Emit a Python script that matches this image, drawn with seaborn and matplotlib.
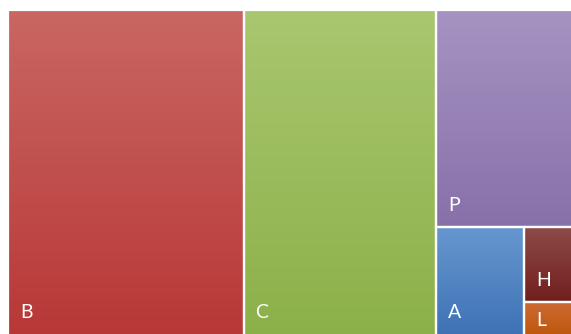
import numpy as np
import seaborn as sns
import matplotlib.pyplot as plt
from matplotlib.colors import to_rgb
from matplotlib.patches import Rectangle

# Category shares (percent of total area)
labels = ["B", "C", "P", "A", "H", "L"]
values = [41.7, 34.1, 16.1, 5.2, 2.0, 0.9]
top_colors = ["#C96763", "#A9C76F", "#A693C2", "#6797CF", "#8D4B49", "#CC6A34"]
bottom_colors = ["#B83836", "#8CB049", "#8870A9", "#3E72B5", "#711F1D", "#BE570C"]


def worst(row, side):
    s = sum(row)
    return max(max(side * side * r / (s * s), s * s / (side * side * r)) for r in row)


def squarify(sizes, x, y, w, h):
    # classic squarified treemap, sizes already scaled to w*h
    rects = []
    sizes = list(sizes)
    while sizes:
        side = min(w, h)
        row = [sizes.pop(0)]
        while sizes and worst(row + [sizes[0]], side) <= worst(row, side):
            row.append(sizes.pop(0))
        s = sum(row)
        if w >= h:
            cw = s / h
            cy = y
            for r in row:
                rects.append((x, cy, cw, r / cw))
                cy += r / cw
            x += cw
            w -= cw
        else:
            rh = s / w
            cx = x
            for r in row:
                rects.append((cx, y, r / rh, rh))
                cx += r / rh
            y += rh
            h -= rh
    return rects


sns.set_theme(style="white")
plt.rcParams['font.family'] = ['Lato', 'DejaVu Sans']

W, H = 571, 334
# the chart is cut by the right and bottom edges of the picture
x0, y0, tw, th = 8, 10, W - 8 + 2, H - 10 + 2
total = sum(values)
scaled = [v / total * tw * th for v in values]
rects = squarify(scaled, x0, y0, tw, th)

fig = plt.figure(figsize=(W / 100, H / 100), dpi=100)
ax = fig.add_axes([0, 0, 1, 1])
ax.set_xlim(0, W)
ax.set_ylim(H, 0)
ax.axis("off")

for lab, (rx, ry, rw, rh), c1, c2 in zip(labels, rects, top_colors, bottom_colors):
    t = np.linspace(0, 1, 128)[:, None]
    grad = (1 - t) * np.array(to_rgb(c1)) + t * np.array(to_rgb(c2))
    ax.imshow(grad[:, None, :].repeat(2, axis=1), extent=(rx, rx + rw, ry + rh, ry),
              aspect="auto", interpolation="bilinear", zorder=1)
    ax.add_patch(Rectangle((rx, ry), rw, rh, fill=False, edgecolor="white",
                           linewidth=1.6, zorder=2))
    bottom = min(ry + rh, H)
    base = max(bottom - 16, ry + 24)
    ax.text(rx + 12, base, lab, color="white", fontsize=14, ha="left",
            va="baseline", zorder=3)

ax.set_xlim(0, W)
ax.set_ylim(H, 0)
fig.savefig("out.png", dpi=100)
